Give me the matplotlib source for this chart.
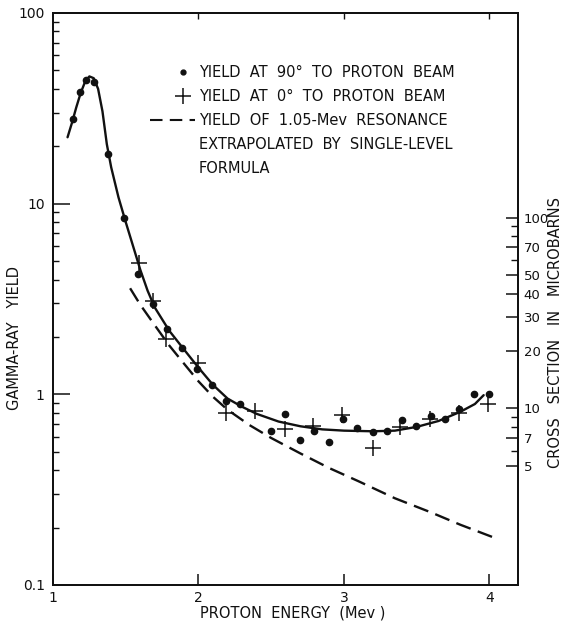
import matplotlib
matplotlib.use("Agg")
import matplotlib.pyplot as plt
from matplotlib.lines import Line2D
from matplotlib.legend_handler import HandlerLine2D

# ---------------- data ----------------
# yield at 90 deg to proton beam (dots)
e90 = [1.137, 1.186, 1.227, 1.282, 1.378, 1.488, 1.584, 1.687, 1.784, 1.887,
       1.99, 2.093, 2.19, 2.285, 2.498, 2.594, 2.698, 2.794, 2.897, 2.993,
       3.09, 3.2, 3.296, 3.399, 3.495, 3.598, 3.694, 3.79, 3.893, 3.997]
y90 = [27.7, 38.4, 44.4, 43.3, 18.3, 8.44, 4.28, 2.98, 2.20, 1.75,
       1.35, 1.115, 0.919, 0.886, 0.646, 0.785, 0.573, 0.639, 0.559, 0.739,
       0.662, 0.631, 0.646, 0.73, 0.679, 0.766, 0.739, 0.834, 1.0, 1.01]

# yield at 0 deg to proton beam (crosses)
e0 = [1.59, 1.687, 1.777, 1.997, 2.19, 2.39, 2.594, 2.79, 2.986, 3.2,
      3.385, 3.59, 3.79, 3.99]
y0 = [4.89, 3.09, 1.95, 1.456, 0.794, 0.814, 0.654, 0.679, 0.775, 0.526,
      0.67, 0.739, 0.794, 0.886]

# smooth fitted curve (solid)
e_fit = [1.10, 1.13, 1.16, 1.19, 1.22, 1.25, 1.28, 1.31, 1.34, 1.37, 1.40,
         1.45, 1.50, 1.55, 1.60, 1.65, 1.70, 1.80, 1.90, 2.00, 2.10, 2.20,
         2.30, 2.40, 2.55, 2.70, 2.85, 3.00, 3.20, 3.35, 3.50, 3.65, 3.80,
         3.90, 3.96]
y_fit = [22.3, 26.5, 32.0, 38.0, 43.5, 46.5, 45.5, 40.0, 30.5, 20.5, 15.5,
         10.8, 8.0, 6.0, 4.5, 3.5, 2.85, 2.15, 1.72, 1.38, 1.12, 0.95,
         0.86, 0.79, 0.72, 0.68, 0.655, 0.645, 0.64, 0.645, 0.675, 0.725, 0.81,
         0.89, 0.99]

# 1.05-Mev resonance extrapolated (dashed)
e_res = [1.53, 1.60, 1.70, 1.80, 1.90, 2.00, 2.10, 2.20, 2.35, 2.50, 2.70,
         2.90, 3.10, 3.35, 3.60, 3.80, 4.05]
y_res = [3.6, 2.95, 2.3, 1.8, 1.45, 1.17, 0.97, 0.83, 0.69, 0.59, 0.49,
         0.41, 0.35, 0.285, 0.24, 0.207, 0.175]

x_ticks = [1, 2, 3, 4]
x_ticklabels = ["1", "2", "3", "4"]
y_ticks = [0.1, 1, 10, 100]
y_ticklabels = ["0.1", "1", "10", "100"]
sigma_major = [5, 7, 10, 20, 30, 40, 50, 70, 100]
sigma_minor = [6, 8, 9, 60, 80, 90]
SIGMA_PER_YIELD = 11.85

legend_labels = ["YIELD  AT  90\u00b0  TO  PROTON  BEAM",
                 "YIELD  AT  0\u00b0  TO  PROTON  BEAM",
                 "YIELD  OF  1.05-Mev  RESONANCE",
                 "EXTRAPOLATED  BY  SINGLE-LEVEL",
                 "FORMULA"]


class RightMarkerHandler(HandlerLine2D):
    """Legend handler that puts the single marker near the right of the handle."""
    def get_xdata(self, legend, xdescent, ydescent, width, height, fontsize):
        x0 = -xdescent + 0.48 * width
        x1 = -xdescent + width
        return [x0, x1], [0.5 * (x0 + x1)]


# ---------------- figure ----------------
plt.rcParams['font.family'] = ['DejaVu Sans']
W, H = 564, 624
fig = plt.figure(figsize=(W / 100, H / 100), dpi=100)
L, R, T, B = 53, 518, 13, 585
ax = fig.add_axes([L / W, 1 - B / H, (R - L) / W, (B - T) / H])

ink = "#111111"
ax.set_yscale("log")
ax.set_xlim(1, 4.196)
ax.set_ylim(0.1, 100)

ax.plot(e_fit, y_fit, color=ink, lw=1.7, solid_capstyle="round",
        solid_joinstyle="round", zorder=3)
ax.plot(e_res, y_res, color=ink, lw=1.7, dashes=(6.5, 3.2), zorder=3)
ax.plot(e90, y90, linestyle="none", marker="o", ms=4.5, color=ink, zorder=4)
ax.plot(e0, y0, linestyle="none", marker="+", ms=12, mew=1.1, color=ink, zorder=4)

for s in ax.spines.values():
    s.set_linewidth(1.3)
    s.set_color(ink)

ax.set_xticks(x_ticks)
ax.set_xticklabels(x_ticklabels)
ax.set_yticks(y_ticks)
ax.set_yticklabels(y_ticklabels)
ax.tick_params(axis="x", which="major", direction="in", length=8, width=1.1,
               pad=4, labelsize=10, colors=ink, top=False)
ax.tick_params(axis="y", which="major", direction="in", length=12, width=1.1,
               pad=6, labelsize=10, colors=ink, right=False)
ax.tick_params(axis="y", which="minor", direction="in", length=4.5, width=1.0,
               right=False, colors=ink)
ax.tick_params(axis="x", which="minor", bottom=False, top=False)

sec = ax.secondary_xaxis("top")
sec.set_xticks([2, 3, 4])
sec.tick_params(direction="in", length=4, width=1.0, labeltop=False, colors=ink)
sec.spines["top"].set_linewidth(1.3)

# right axis: cross section
ax2 = ax.twinx()
ax2.set_yscale("log")
ax2.set_ylim(0.1 * SIGMA_PER_YIELD, 100 * SIGMA_PER_YIELD)
ax2.set_yticks(sigma_major)
ax2.set_yticklabels([str(v) for v in sigma_major])
ax2.set_yticks(sigma_minor, minor=True)
ax2.set_yticklabels([], minor=True)
ax2.tick_params(axis="y", which="major", direction="in", length=9, width=1.1,
                pad=4, labelsize=9.5, colors=ink)
ax2.tick_params(axis="y", which="minor", direction="in", length=5, width=1.0,
                colors=ink)
for s in ax2.spines.values():
    s.set_linewidth(1.3)
    s.set_color(ink)

# axis labels
fig.text(15 / W, 1 - 338 / H, "GAMMA-RAY   YIELD", rotation=90, ha="center",
         va="center", fontsize=10.5, color=ink)
fig.text(556 / W, 1 - 332 / H, "CROSS   SECTION   IN   MICROBARNS", rotation=90,
         ha="center", va="center", fontsize=10.5, color=ink)
fig.text(293 / W, 1 - 613 / H, "PROTON  ENERGY  (Mev )", ha="center",
         va="center", fontsize=10.5, color=ink)

# legend
h_dot = Line2D([], [], linestyle="none", marker="o", ms=3.5, color=ink)
h_plus = Line2D([], [], linestyle="none", marker="+", ms=11, mew=1.1, color=ink)
handles = [
    h_dot,
    h_plus,
    Line2D([], [], color=ink, lw=1.5, dashes=(6, 3.5)),
    Line2D([], [], linestyle="none"),
    Line2D([], [], linestyle="none"),
]
leg = ax.legend(handles, legend_labels, loc="upper left",
                bbox_to_anchor=(150 / W, 1 - 65 / H),
                bbox_transform=fig.transFigure, frameon=False, fontsize=10.5,
                handlelength=3.1, handletextpad=0.25, labelspacing=0.62,
                borderpad=0, borderaxespad=0, numpoints=1,
                handler_map={h_dot: RightMarkerHandler(numpoints=1),
                             h_plus: RightMarkerHandler(numpoints=1)})
for t in leg.get_texts():
    t.set_color(ink)

fig.savefig("out.png", dpi=100)
